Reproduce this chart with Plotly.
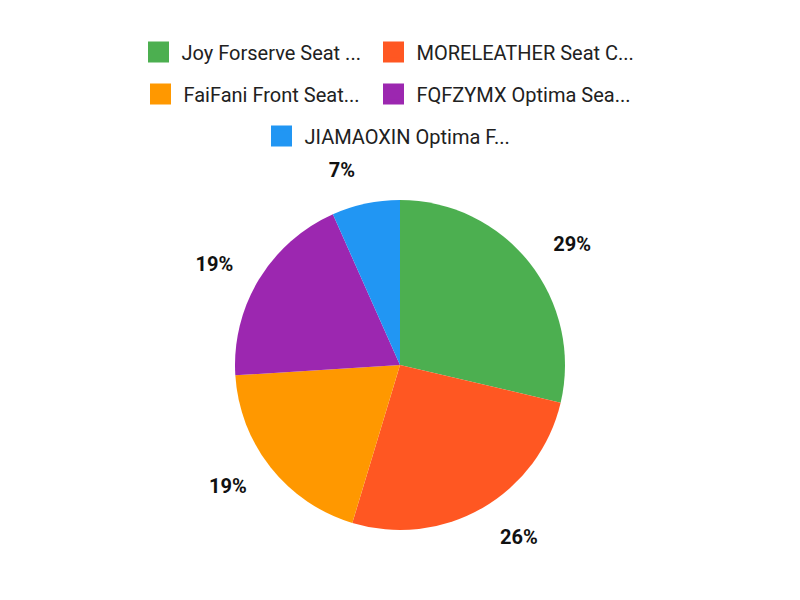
import plotly.graph_objects as go

# seat cover products and units sold
products = [
    "Joy Forserve Seat ...",
    "MORELEATHER Seat C...",
    "FaiFani Front Seat...",
    "FQFZYMX Optima Sea...",
    "JIAMAOXIN Optima F...",
]
units = [43, 39, 29, 29, 10]
colors = ["#4CAF50", "#FF5722", "#FF9800", "#9C27B0", "#2196F3"]

W, H = 800, 600
CX, CY = 392, 357   # page body adds an 8px margin
R_PIE = 165
R_LABELS = 188


def domain(r):
    return dict(
        x=[(CX - r) / W, (CX + r) / W],
        y=[1 - (CY + r) / H, 1 - (CY - r) / H],
    )


fig = go.Figure()

# transparent copy of the pie, a bit larger, only used to place the % labels
fig.add_trace(go.Pie(
    labels=products,
    values=units,
    sort=False,
    direction="clockwise",
    rotation=0,
    domain=domain(R_LABELS),
    marker=dict(colors=["rgba(0,0,0,0)"] * len(units), line=dict(width=0)),
    texttemplate="%{percent:.0%}",
    textposition="outside",
    outsidetextfont=dict(family="Roboto", size=20, color="#111111", weight="bold"),
    showlegend=False,
    hoverinfo="skip",
))

fig.add_trace(go.Pie(
    labels=products,
    values=units,
    sort=False,
    direction="clockwise",
    rotation=0,
    domain=domain(R_PIE),
    marker=dict(colors=colors, line=dict(width=0)),
    textinfo="none",
    showlegend=False,
))

# legend entries: one small legend each, laid out as 2 + 2 + 1 centered
legend_ids = ["legend", "legend2", "legend3", "legend4", "legend5"]
for name, color, leg in zip(products, colors, legend_ids):
    fig.add_trace(go.Scatter(
        x=[None], y=[None],
        mode="markers",
        name=name,
        legend=leg,
        marker=dict(symbol="square", size=16, color=color, line=dict(color=color, width=5)),
        hoverinfo="skip",
    ))

legend_style = dict(
    orientation="h",
    xanchor="left",
    yanchor="middle",
    itemwidth=36,
    font=dict(family="Roboto", size=20, color="#212121"),
    bgcolor="rgba(0,0,0,0)",
)
legend_xy = [(127.5, 44), (362.5, 44), (129.5, 86), (362.5, 86), (250.5, 128)]

fig.update_layout(
    width=W,
    height=H,
    margin=dict(l=0, r=0, t=0, b=0),
    paper_bgcolor="white",
    plot_bgcolor="white",
    xaxis=dict(visible=False),
    yaxis=dict(visible=False),
    **{leg: dict(legend_style, x=lx / W, y=1 - ly / H)
       for leg, (lx, ly) in zip(legend_ids, legend_xy)},
)

fig.write_html("out.html")
